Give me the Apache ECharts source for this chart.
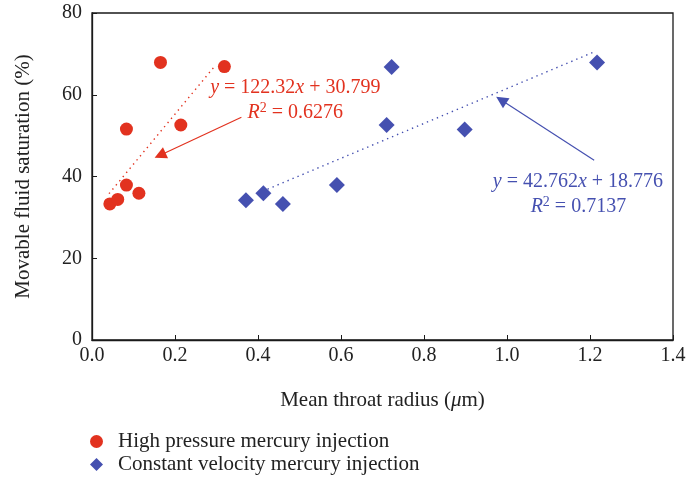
<!DOCTYPE html>
<html>
<head>
<meta charset="utf-8">
<script src="https://cdn.jsdelivr.net/npm/echarts@6/dist/echarts.min.js"></script>
<style>html,body{margin:0;padding:0;background:#fff}#c{width:686px;height:481px}</style>
</head>
<body>
<div id="c"></div>
<script>
// ---- data ----
const hpX = [0.043, 0.062, 0.083, 0.083, 0.113, 0.165, 0.214, 0.319];
const hpY = [33.3, 34.4, 37.9, 51.6, 35.9, 67.9, 52.6, 66.9];
const cvX = [0.371, 0.413, 0.460, 0.590, 0.710, 0.722, 0.898, 1.217];
const cvY = [34.2, 35.9, 33.3, 37.9, 52.6, 66.8, 51.5, 67.9];
const hpTrendX = [0.041, 0.295];
const hpTrendY = [35.8, 66.9];
const cvTrendX = [0.423, 1.208];
const cvTrendY = [36.9, 70.4];
const hpArrowX = [0.36, 0.164];
const hpArrowY = [54.5, 45.2];
const cvArrowX = [1.21, 0.986];
const cvArrowY = [44.0, 58.7];
const xTicks = ['0.0','0.2','0.4','0.6','0.8','1.0','1.2','1.4'];
const yTicks = ['0','20','40','60','80'];
const seriesNames = ['High pressure mercury injection', 'Constant velocity mercury injection'];
const hpEq = ['{i|y} = 122.32{i|x} + 30.799', '{i|R}{sup|2} = 0.6276'];
const cvEq = ['{i|y} = 42.762{i|x} + 18.776', '{i|R}{sup|2} = 0.7137'];
const hpEqAt = [[0.49, 61.7], [0.49, 55.5]];
const cvEqAt = [[1.171, 38.7], [1.172, 32.6]];

const RED = '#e2321f', BLUE = '#4550b0';
const FONT = '"Liberation Serif", "DejaVu Serif", serif';
const zip = (a, b) => a.map((v, i) => [v, b[i]]);

const chart = echarts.init(document.getElementById('c'));
function arrowML(xs, ys, color) {
  return {
    silent: true, animation: false,
    symbol: ['none', 'triangle'], symbolSize: 12,
    label: { show: false },
    lineStyle: { color: color, type: 'solid', width: 1.2 },
    itemStyle: { color: color },
    data: [[
      { coord: [xs[0], ys[0]], symbol: 'none' },
      { coord: [xs[1], ys[1]], symbol: 'triangle', symbolSize: 12 }
    ]]
  };
}
chart.setOption({
  animation: false,
  textStyle: { fontFamily: FONT },
  grid: { left: 92, right: 13, top: 13, bottom: 141, outerBoundsMode: 'none', containLabel: false,
    show: true, borderColor: '#1a1a1a', borderWidth: 1.3 },
  xAxis: {
    type: 'value', min: 0, max: 1.4, interval: 0.2,
    axisLine: { show: true, lineStyle: { color: '#1a1a1a', width: 1.3 } },
    axisTick: { show: true, inside: true, length: 5, lineStyle: { color: '#1a1a1a' } },
    splitLine: { show: false },
    axisLabel: { color: '#222', fontSize: 20, fontFamily: FONT, margin: 6,
      formatter: v => xTicks[Math.round(v / 0.2)] },
    name: '{n|Mean throat radius (}{i|μ}{n|m)}', nameLocation: 'middle', nameGap: 50,
    nameTextStyle: { rich: { n: { fontSize: 21, fontFamily: FONT, color: '#222' }, i: { fontSize: 21, fontFamily: FONT, fontStyle: 'italic', color: '#222' } } }
  },
  yAxis: {
    type: 'value', min: 0, max: 80, interval: 20,
    axisLine: { show: true, lineStyle: { color: '#1a1a1a', width: 1.3 } },
    axisTick: { show: true, inside: true, length: 5, lineStyle: { color: '#1a1a1a' } },
    splitLine: { show: false },
    axisLabel: { color: '#222', fontSize: 20, fontFamily: FONT, margin: 10,
      formatter: v => yTicks[Math.round(v / 20)] },
    name: 'Movable fluid saturation (%)', nameLocation: 'middle', nameGap: 58,
    nameTextStyle: { fontSize: 21, fontFamily: FONT, color: '#222' }
  },
  legend: {
    orient: 'vertical', left: 90, top: 431, padding: 0, itemGap: 2, itemWidth: 13, itemHeight: 13,
    data: seriesNames,
    textStyle: { fontSize: 21, fontFamily: FONT, color: '#222', padding: [0, 0, 0, 10] }
  },
  series: [
    { name: seriesNames[0], type: 'scatter', symbol: 'circle', symbolSize: 13,
      itemStyle: { color: RED, opacity: 1 }, data: zip(hpX, hpY), z: 5 },
    { name: seriesNames[1], type: 'scatter', symbol: 'diamond', symbolSize: 16,
      itemStyle: { color: BLUE, opacity: 1 }, data: zip(cvX, cvY), z: 5 },
    { name: 'hpTrend', type: 'line', symbol: 'none', data: zip(hpTrendX, hpTrendY),
      lineStyle: { color: RED, type: [1.4, 4], width: 1.4 }, z: 3,
      markLine: arrowML(hpArrowX, hpArrowY, RED) },
    { name: 'cvTrend', type: 'line', symbol: 'none', data: zip(cvTrendX, cvTrendY),
      lineStyle: { color: BLUE, type: [1.4, 4], width: 1.4 }, z: 3,
      markLine: arrowML(cvArrowX, cvArrowY, BLUE) }
  ]
});

function eqGraphics(lines, at, color) {
  const rich = {
    i: { fontStyle: 'italic', fontSize: 20, fontFamily: FONT, fill: color },
    sup: { fontSize: 14, fontFamily: FONT, fill: color, padding: [0, 0, 9, 0] }
  };
  return lines.map((t, k) => {
    const p = chart.convertToPixel({ gridIndex: 0 }, at[k]);
    return { type: 'text', x: p[0], y: p[1], z: 10, silent: true,
      style: { text: t, rich: rich, fill: color, font: '20px ' + FONT, align: 'center', verticalAlign: 'middle' } };
  });
}
chart.setOption({ graphic: eqGraphics(hpEq, hpEqAt, RED).concat(eqGraphics(cvEq, cvEqAt, BLUE)) });
</script>
</body>
</html>
